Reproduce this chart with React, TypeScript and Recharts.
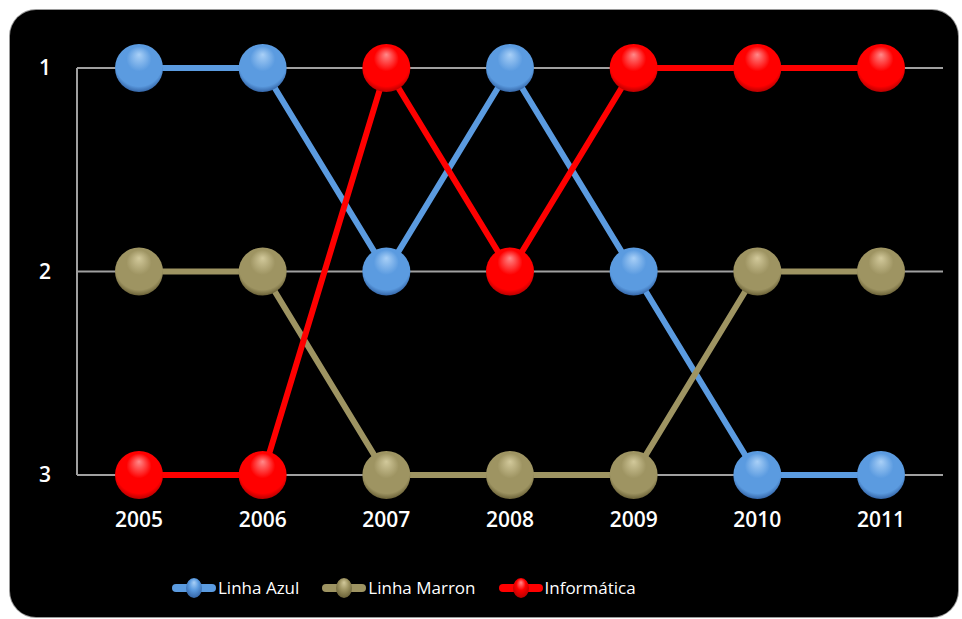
import React from "react";
import { LineChart, Line, XAxis, YAxis, CartesianGrid } from "recharts";

const years = ["2005", "2006", "2007", "2008", "2009", "2010", "2011"];
const linhaAzul = [1, 1, 2, 1, 2, 3, 3];
const linhaMarron = [2, 2, 3, 3, 3, 2, 2];
const informatica = [3, 3, 1, 2, 1, 1, 1];
const yTicks = [1, 2, 3];

const series = [
  { key: "azul", name: "Linha Azul", values: linhaAzul, color: "#5b9be0", light: "#a9d0f7", dark: "#3566a8" },
  { key: "marron", name: "Linha Marron", values: linhaMarron, color: "#9e9462", light: "#d2c99b", dark: "#6b6238" },
  { key: "info", name: "Informática", values: informatica, color: "#ff0000", light: "#ff8a8a", dark: "#b80000" },
];

const data = years.map((year, i) => ({
  year,
  azul: linhaAzul[i],
  marron: linhaMarron[i],
  info: informatica[i],
}));

const font = "'Open Sans', sans-serif";

function Gradients() {
  return (
    <defs>
      {series.map((s) => (
        <radialGradient key={s.key} id={`ball-${s.key}`} cx="50%" cy="42%" r="58%" fx="50%" fy="22%">
          <stop offset="0%" stopColor={s.light} />
          <stop offset="45%" stopColor={s.color} />
          <stop offset="85%" stopColor={s.color} />
          <stop offset="100%" stopColor={s.dark} />
        </radialGradient>
      ))}
    </defs>
  );
}

const ballDot = (key: string) => (props: any) => {
  const { cx, cy, index } = props;
  if (cx == null || cy == null) return <g key={index} />;
  return <circle key={index} cx={cx} cy={cy} r={24} fill={`url(#ball-${key})`} stroke="none" />;
};

function LegendIcon({ s }: { s: (typeof series)[number] }) {
  return (
    <svg width={44} height={22} style={{ display: "block" }}>
      <defs>
        <radialGradient id={`lg-${s.key}`} cx="50%" cy="42%" r="58%" fx="50%" fy="22%">
          <stop offset="0%" stopColor={s.light} />
          <stop offset="50%" stopColor={s.color} />
          <stop offset="100%" stopColor={s.dark} />
        </radialGradient>
      </defs>
      <line x1={4} y1={11} x2={40} y2={11} stroke={s.color} strokeWidth={8} strokeLinecap="round" />
      <ellipse cx={22} cy={11} rx={8} ry={10} fill={`url(#lg-${s.key})`} />
    </svg>
  );
}

export default function App() {
  return (
    <div style={{ position: "absolute", left: 0, top: 0, width: 962, height: 619, background: "#fff", overflow: "hidden" }}>
      <div
        style={{
          position: "absolute",
          left: 10,
          top: 10,
          width: 948,
          height: 607,
          background: "#000",
          borderRadius: 26,
          boxShadow: "0 0 0 1px #9a9a9a",
        }}
      />
      <div style={{ position: "absolute", left: 0, top: 0 }}>
        <LineChart width={962} height={619} data={data} margin={{ top: 68, right: 19, bottom: 114, left: 0 }}>
          <Gradients />
          <CartesianGrid horizontal vertical={false} stroke="#a0a0a0" strokeWidth={2} />
          <XAxis
            dataKey="year"
            height={30}
            padding={{ left: 62, right: 62 }}
            axisLine={false}
            tickLine={false}
            tickSize={0}
            tickMargin={37}
            tick={{ fill: "#fff", fontSize: 21, fontFamily: font, fontWeight: 600 }}
            interval={0}
          />
          <YAxis
            reversed
            domain={[1, 3]}
            ticks={yTicks}
            width={77}
            axisLine={{ stroke: "#a0a0a0", strokeWidth: 2 }}
            tickLine={false}
            tickSize={0}
            tickMargin={26}
            tick={{ fill: "#fff", fontSize: 21, fontFamily: font, fontWeight: 600 }}
          />
          {series.map((s) => (
            <Line
              key={s.key}
              dataKey={s.key}
              name={s.name}
              stroke={s.color}
              strokeWidth={6}
              type="linear"
              dot={ballDot(s.key)}
              activeDot={false}
              isAnimationActive={false}
            />
          ))}
        </LineChart>
      </div>
      <div
        style={{
          position: "absolute",
          top: 576,
          left: 172,
          display: "flex",
          alignItems: "center",
          fontFamily: font,
          fontSize: 17,
          color: "#fff",
        }}
      >
        {series.map((s) => (
          <div key={s.key} style={{ display: "flex", alignItems: "center", marginRight: 23 }}>
            <LegendIcon s={s} />
            <span style={{ marginLeft: 2 }}>{s.name}</span>
          </div>
        ))}
      </div>
    </div>
  );
}
